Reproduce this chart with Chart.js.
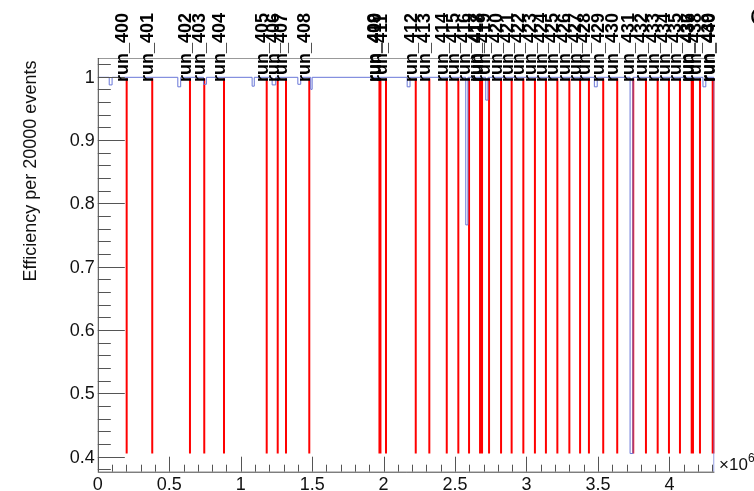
<!DOCTYPE html>
<html>
<head>
<meta charset="utf-8">
<script src="https://cdn.jsdelivr.net/npm/chart.js@4"></script>
<style>
  html, body { margin: 0; padding: 0; background: #fff; }
  canvas { display: block; }
</style>
</head>
<body>
<canvas id="effChart" width="754" height="491"></canvas>
<script>
// run boundaries (x in units of 10^6 events)
const runNames = [
    'run_400', 'run_401', 'run_402', 'run_403', 'run_404', 'run_405', 'run_406', 'run_407', 'run_408',
    'run_409', 'run_410', 'run_411', 'run_412', 'run_413', 'run_414', 'run_415', 'run_416', 'run_417',
    'run_418', 'run_419', 'run_420', 'run_421', 'run_422', 'run_423', 'run_424', 'run_425', 'run_426',
    'run_427', 'run_428', 'run_429', 'run_430', 'run_431', 'run_432', 'run_433', 'run_434', 'run_435',
    'run_436', 'run_437', 'run_438', 'run_439', 'run_440'
];
const runStarts = [
    0.202, 0.381, 0.645, 0.745, 0.883, 1.182, 1.259, 1.317, 1.480,
    1.971, 1.978, 2.017, 2.225, 2.320, 2.442, 2.523, 2.598, 2.675,
    2.689, 2.738, 2.822, 2.896, 2.978, 3.059, 3.136, 3.216, 3.300,
    3.375, 3.437, 3.537, 3.635, 3.747, 3.836, 3.918, 3.997, 4.074,
    4.156, 4.165, 4.214, 4.303, 4.313
];

// efficiency histogram, given where the value changes (step holds until next x)
const effX = [0, 0.08, 0.10, 0.56, 0.58, 0.74, 0.76, 1.08, 1.095, 1.22, 1.245, 1.40, 1.42, 1.49, 1.50,
    2.165, 2.185, 2.575, 2.59, 2.715, 2.73, 3.475, 3.495, 3.725, 3.745, 4.235, 4.255, 4.312];
const effY = [0.999, 0.987, 0.999, 0.984, 0.999, 0.988, 0.999, 0.985, 0.999, 0.987, 0.999, 0.988, 0.999, 0.980, 0.999,
    0.984, 0.999, 0.766, 0.999, 0.963, 0.999, 0.984, 0.999, 0.405, 0.999, 0.984, 0.999, 0];

const yTicks = [0.4, 0.5, 0.6, 0.7, 0.8, 0.9, 1];
const yTickLabels = ['0.4', '0.5', '0.6', '0.7', '0.8', '0.9', '1'];
const xTicks = [0, 0.5, 1, 1.5, 2, 2.5, 3, 3.5, 4];
const xTickLabels = ['0', '0.5', '1', '1.5', '2', '2.5', '3', '3.5', '4'];

const lineBottom = 0.405;
const lineTop = 0.997;
const labelStart = 0.9915;

const effPoints = effX.map((x, i) => ({ x: x, y: effY[i] }));
const runPoints = [];
runStarts.forEach(x => {
    runPoints.push({ x: x, y: lineBottom });
    runPoints.push({ x: x, y: lineTop });
    runPoints.push({ x: x, y: null });
});

const FONT = '"Liberation Sans", Arial, Helvetica, sans-serif';

const rootAxes = {
    id: 'rootAxes',
    afterDatasetsDraw(chart) {
        const ctx = chart.ctx;
        const a = chart.chartArea;
        const xs = chart.scales.x;
        const ys = chart.scales.y;
        ctx.save();

        // frame
        ctx.strokeStyle = '#999';
        ctx.lineWidth = 1;
        ctx.beginPath();
        ctx.moveTo(a.left, a.top + 0.5);
        ctx.lineTo(a.right, a.top + 0.5);
        ctx.stroke();

        ctx.strokeStyle = '#444';
        ctx.beginPath();
        ctx.moveTo(a.left + 0.5, a.top);
        ctx.lineTo(a.left + 0.5, a.bottom);
        ctx.moveTo(a.left, a.bottom + 0.5);
        ctx.lineTo(a.right, a.bottom + 0.5);
        ctx.stroke();

        // y ticks: major every 0.1, minor every 0.02
        ctx.strokeStyle = '#555';
        ctx.beginPath();
        for (let k = 19; k <= 51; k++) {
            const v = k * 0.02;
            if (v < ys.min || v > ys.max) continue;
            const py = Math.round(ys.getPixelForValue(v)) + 0.5;
            const len = (k % 5 === 0) ? 27 : 13;
            ctx.moveTo(a.left, py);
            ctx.lineTo(a.left + len, py);
        }
        // x ticks: major every 0.5, minor every 0.1
        for (let k = 0; k <= 43; k++) {
            const v = k * 0.1;
            if (v > xs.max) continue;
            const px = Math.round(xs.getPixelForValue(v)) + 0.5;
            const len = (k % 5 === 0) ? 15 : 7;
            ctx.moveTo(px, a.bottom);
            ctx.lineTo(px, a.bottom - len);
        }
        ctx.stroke();

        // tick labels
        ctx.fillStyle = '#111';
        ctx.font = '18px ' + FONT;
        ctx.textAlign = 'right';
        ctx.textBaseline = 'middle';
        yTicks.forEach((v, i) => {
            ctx.fillText(yTickLabels[i], a.left - 3, ys.getPixelForValue(v) + 1);
        });
        ctx.textAlign = 'center';
        ctx.textBaseline = 'alphabetic';
        xTicks.forEach((v, i) => {
            ctx.fillText(xTickLabels[i], xs.getPixelForValue(v), 490);
        });

        // exponent
        ctx.textAlign = 'left';
        ctx.font = '17px ' + FONT;
        ctx.fillText('\u00d710', 719, 470);
        ctx.font = '12px ' + FONT;
        ctx.fillText('6', 748, 462);

        // y title
        ctx.save();
        ctx.font = '18px ' + FONT;
        ctx.textAlign = 'center';
        ctx.translate(36, 171);
        ctx.rotate(-Math.PI / 2);
        ctx.fillText('Efficiency per 20000 events', 0, 0);
        ctx.restore();

        // run labels
        ctx.font = 'bold 18px ' + FONT;
        ctx.fillStyle = '#000';
        const yl = ys.getPixelForValue(labelStart);
        runStarts.forEach((x, i) => {
            ctx.save();
            ctx.translate(xs.getPixelForValue(x) + 1, yl);
            ctx.rotate(-Math.PI / 2);
            ctx.textAlign = 'left';
            ctx.fillText(runNames[i], 0, 0);
            ctx.restore();
        });

        // cut-off mark at top right
        ctx.font = '24px ' + FONT;
        ctx.fillText('C', 750, 25);

        ctx.restore();
    }
};

new Chart(document.getElementById('effChart'), {
    type: 'scatter',
    data: {
        datasets: [
            {
                label: 'efficiency',
                data: effPoints,
                showLine: true,
                stepped: true,
                borderColor: '#6a78d8',
                borderWidth: 1,
                pointRadius: 0,
                fill: false
            },
            {
                label: 'runs',
                data: runPoints,
                showLine: true,
                spanGaps: false,
                borderColor: '#ff0000',
                borderWidth: 2,
                pointRadius: 0,
                fill: false
            }
        ]
    },
    options: {
        responsive: false,
        animation: false,
        devicePixelRatio: 1,
        layout: { padding: { left: 97.8, right: 39.6, top: 58, bottom: 19.3 } },
        plugins: { legend: { display: false }, tooltip: { enabled: false } },
        scales: {
            x: { type: 'linear', min: 0, max: 4.315, display: false },
            y: { type: 'linear', min: 0.3763, max: 1.0295, display: false }
        }
    },
    plugins: [rootAxes]
});
</script>
</body>
</html>
